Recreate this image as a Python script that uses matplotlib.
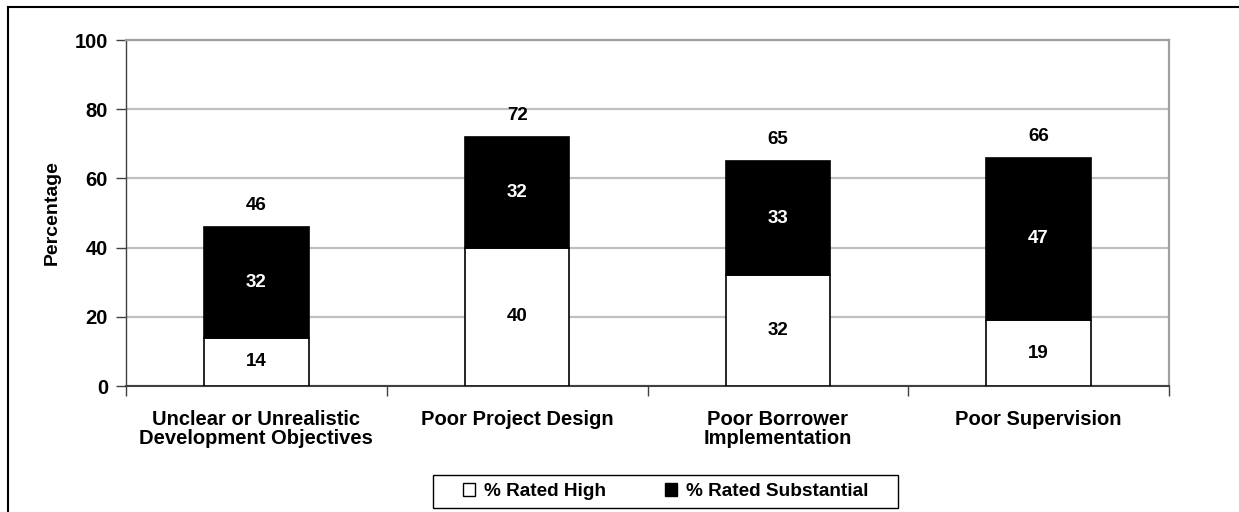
import matplotlib
matplotlib.use("Agg")
import matplotlib.pyplot as plt
import numpy as np
from matplotlib.patches import Patch, Rectangle
from matplotlib.lines import Line2D

plt.rcParams['font.family'] = ['Liberation Sans', 'DejaVu Sans']
plt.rcParams['font.weight'] = 'bold'

categories = [
    "Unclear or Unrealistic\nDevelopment Objectives",
    "Poor Project Design",
    "Poor Borrower\nImplementation",
    "Poor Supervision",
]
rated_high = [14, 40, 32, 19]
rated_substantial = [32, 32, 33, 47]
series_names = ["% Rated High", "% Rated Substantial"]
y_ticks = [0, 20, 40, 60, 80, 100]

W, H = 1239, 512
fig = plt.figure(figsize=(W / 100, H / 100), dpi=100)
ax = fig.add_axes([126 / W, 1 - 386 / H, (1169 - 126) / W, (386 - 40) / H])

x = np.arange(len(categories))
high = np.array(rated_high)
subst = np.array(rated_substantial)
total = high + subst
bar_w = 0.4

ax.bar(x, high, width=bar_w, color="white", edgecolor="black", linewidth=1.2, zorder=3)
ax.bar(x, subst, width=bar_w, bottom=high, color="black", edgecolor="black",
       linewidth=1.2, zorder=3)

for xi, h, s, t in zip(x, high, subst, total):
    ax.text(xi, h / 2, f"{h}", ha="center", va="center", fontsize=13.5,
            color="black", fontweight="bold", zorder=4)
    ax.text(xi, h + s / 2, f"{s}", ha="center", va="center", fontsize=13.5,
            color="white", fontweight="bold", zorder=4)
    ax.text(xi, t + 6.2, f"{t}", ha="center", va="center", fontsize=13.5,
            color="black", fontweight="bold", zorder=4)

ax.set_xlim(-0.5, len(categories) - 0.5)
ax.set_ylim(0, 100)
ax.set_yticks(y_ticks)
ax.set_yticklabels([str(v) for v in y_ticks], fontsize=14.5, fontweight="bold")
ax.tick_params(axis="y", direction="out", length=7, width=1, color="#404040", pad=6)

ax.set_xticks(x)
ax.set_xticklabels(categories, fontsize=14.5, fontweight="bold", linespacing=1.05)
ax.tick_params(axis="x", which="major", length=0, pad=17)
ax.set_xticks(np.arange(-0.5, len(categories)), minor=True)
ax.tick_params(axis="x", which="minor", direction="out", length=7, width=1,
               color="#404040")

ax.yaxis.grid(True, color="#c0c0c0", linewidth=1.6, zorder=0)
ax.set_axisbelow(True)

ax.spines["left"].set_color("#404040")
ax.spines["left"].set_linewidth(1.0)
ax.spines["bottom"].set_color("#404040")
ax.spines["bottom"].set_linewidth(1.5)
ax.spines["top"].set_color("#a0a0a0")
ax.spines["top"].set_linewidth(1.6)
ax.spines["right"].set_color("#a0a0a0")
ax.spines["right"].set_linewidth(1.6)

ax.set_ylabel("Percentage", fontsize=14, fontweight="bold", labelpad=10)

# legend frame drawn separately so its padding can be set freely
lx0, lx1, ly0, ly1 = 433, 898, 475, 508
fig.add_artist(Rectangle((lx0 / W, 1 - ly1 / H), (lx1 - lx0) / W, (ly1 - ly0) / H,
                         transform=fig.transFigure, facecolor="white",
                         edgecolor="black", linewidth=1.0))
handles = [Patch(facecolor="white", edgecolor="black", linewidth=1.0),
           Patch(facecolor="black", edgecolor="black", linewidth=1.0)]
fig.legend(handles, series_names, loc="center",
           bbox_to_anchor=((lx0 + lx1) / 2 / W, 1 - (ly0 + ly1) / 2 / H),
           ncol=2, frameon=False, fontsize=13.7, handlelength=0.65,
           handleheight=0.65, handletextpad=0.45, columnspacing=3.1,
           prop={"weight": "bold", "size": 13.7})

# outer chart frame (left and top edges)
fig.add_artist(Line2D([8 / W, 8 / W], [0, 1 - 7 / H], transform=fig.transFigure,
                      color="black", linewidth=1.5))
fig.add_artist(Line2D([8 / W, 1], [1 - 7 / H, 1 - 7 / H], transform=fig.transFigure,
                      color="black", linewidth=1.5))

fig.savefig("out.png", dpi=100)
